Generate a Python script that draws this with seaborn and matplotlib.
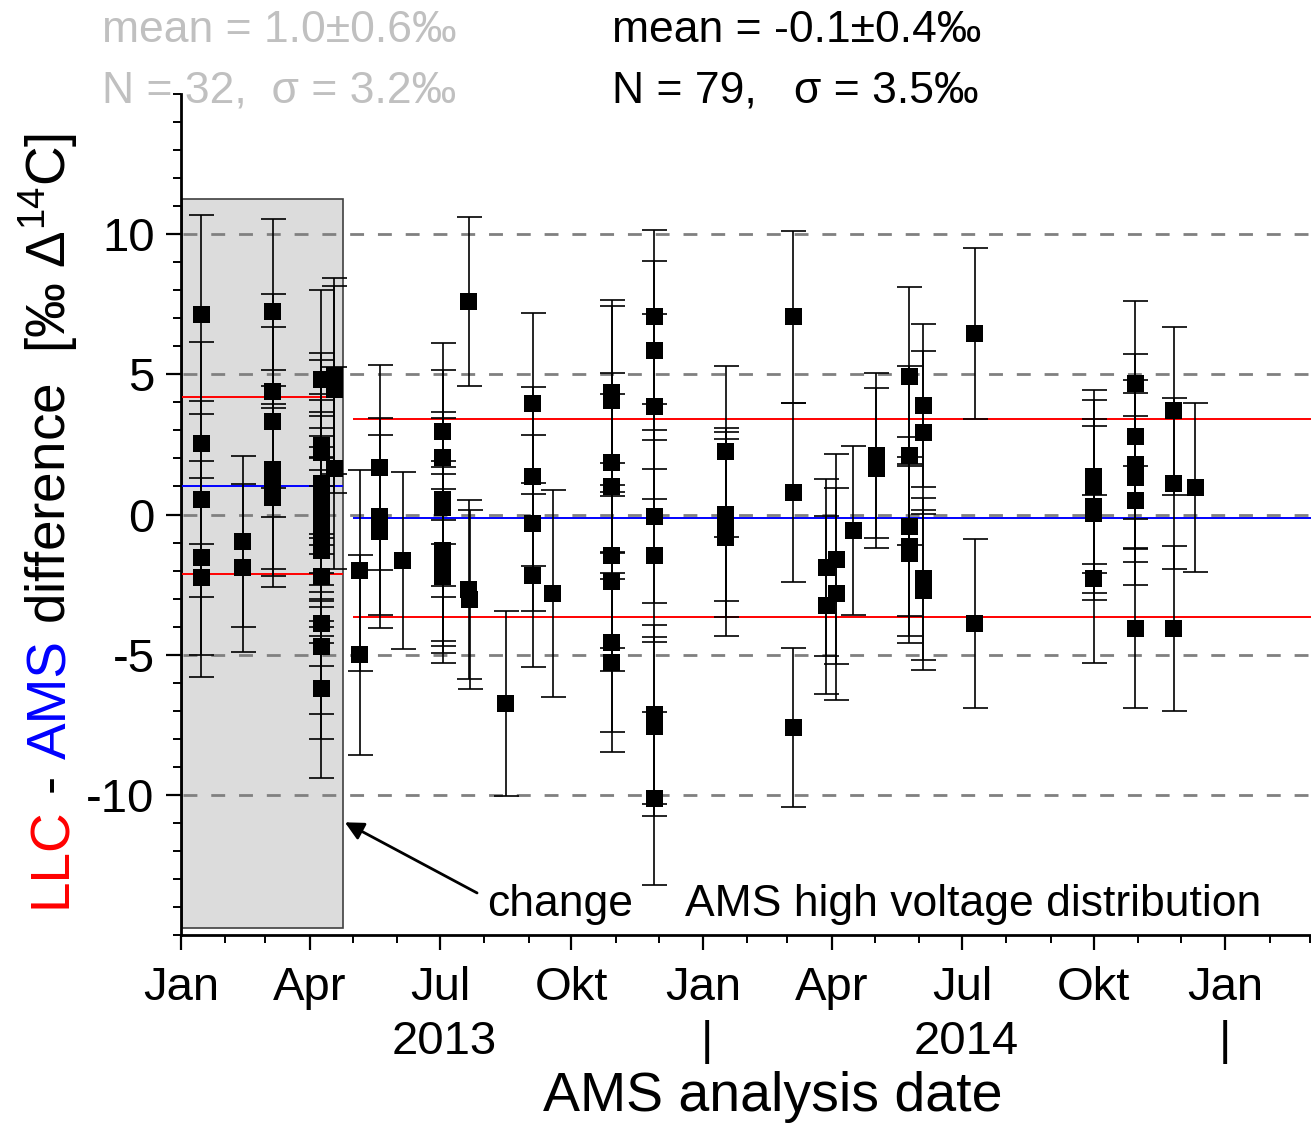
import matplotlib
matplotlib.use("Agg")
import numpy as np
import pandas as pd
import matplotlib.pyplot as plt
import matplotlib.dates as mdates
import seaborn as sns
from matplotlib.patches import Rectangle
from matplotlib.ticker import MultipleLocator, FuncFormatter
from matplotlib.transforms import blended_transform_factory

# ---------------- data ----------------
pre_dates = (["2013-01-15"] * 5 + ["2013-02-13"] * 2 + ["2013-03-06"] * 6 +
             ["2013-04-09"] * 16 + ["2013-04-18"] * 3)
pre_diffs = [7.15, 2.55, 0.55, -1.55, -2.25,
             -0.95, -1.9,
             7.25, 4.4, 3.3, 1.6, 1.2, 0.6,
             4.8, 2.45, 2.2, 1.1, 0.8, 0.45, 0.2, -0.1, -0.5, -0.8, -1.15, -1.3, -2.2, -3.9, -4.7, -6.2,
             4.95, 4.45, 1.65]
pre_errs = [3.55, 3.6, 3.5, 3.45, 3.55,
            3.05, 3.0,
            3.3, 3.45, 3.4, 3.55, 3.4, 3.2,
            3.2, 3.3, 3.3, 3.2, 3.3, 3.2, 3.3, 3.2, 3.3, 3.2, 3.2, 3.3, 3.2, 3.2, 3.3, 3.2,
            3.5, 3.7, 3.6]

post_dates = (["2013-05-06"] * 2 + ["2013-05-20"] * 3 + ["2013-06-05"] + ["2013-07-03"] * 8 +
              ["2013-07-21"] * 2 + ["2013-07-22"] + ["2013-08-16"] + ["2013-09-04"] * 4 +
              ["2013-09-18"] + ["2013-10-29"] * 8 + ["2013-11-28"] * 8 + ["2014-01-17"] * 4 +
              ["2014-03-05"] * 3 + ["2014-03-28"] * 2 + ["2014-04-04"] * 2 + ["2014-04-16"] +
              ["2014-05-02"] * 2 + ["2014-05-25"] * 5 + ["2014-06-04"] * 4 + ["2014-07-10"] * 2 +
              ["2014-10-01"] * 5 + ["2014-10-30"] * 6 + ["2014-11-26"] * 3 + ["2014-12-11"])
post_diffs = [-2.0, -5.0,
              1.68, -0.07, -0.6,
              -1.64,
              2.95, 2.05, 0.55, 0.25, -1.3, -1.5, -1.75, -2.2,
              7.6, -2.68, -3.03,
              -6.74,
              3.96, 1.36, -0.32, -2.17,
              -2.82,
              4.35, 4.05, 1.86, 1.0, -1.46, -2.4, -4.56, -5.27,
              7.05, 5.85, 3.86, -0.07, -1.46, -7.13, -7.56, -10.13,
              2.25, 0.0, -0.36, -0.82,
              7.05, 0.78, -7.6,
              -1.89, -3.24,
              -1.6, -2.82,
              -0.57,
              2.1, 1.65,
              4.93, 2.1, -0.42, -1.14, -1.39,
              3.89, 2.92, -2.3, -2.7,
              6.45, -3.89,
              1.35, 1.0, 0.3, 0.05, -2.3,
              4.67, 2.78, 1.8, 1.32, 0.5, -4.07,
              3.7, 1.1, -4.07,
              0.96]
post_errs = [3.57, 3.57,
             3.67, 3.5, 3.45,
             3.15,
             3.15, 3.1, 3.1, 3.2, 3.2, 3.2, 3.2, 3.1,
             3.0, 3.2, 3.2,
             3.3,
             3.24, 3.2, 3.14, 3.28,
             3.7,
             3.3, 3.4, 3.2, 3.3, 3.3, 3.2, 3.2, 3.2,
             3.1, 3.2, 3.3, 3.1, 3.1, 3.2, 3.2, 3.1,
             3.05, 3.1, 3.3, 3.5,
             3.08, 3.2, 2.85,
             3.17, 3.17,
             3.75, 3.78,
             3.03,
             2.95, 2.85,
             3.2, 3.2, 3.2, 3.2, 3.2,
             2.9, 2.9, 2.9, 2.85,
             3.05, 3.0,
             3.1, 3.1, 3.1, 3.1, 3.0,
             2.95, 2.95, 3.0, 3.0, 3.0, 2.85,
             3.0, 3.05, 2.93,
             3.0]

pre_mean, pre_sigma = 1.03, 3.17
post_mean, post_sigma = -0.13, 3.53
hv_change_start, hv_change_end = "2013-01-02", "2013-04-24"
post_line_start = "2013-05-01"

month_names = {1: "Jan", 4: "Apr", 7: "Jul", 10: "Okt"}
year_labels = [("2013-07-04", "2013"), ("2014-01-04", "|"), ("2014-07-04", "2014"), ("2015-01-01", "|")]

pre_stats = ["mean = 1.0\u00b10.6\u2030", "N = 32,  \u03c3 = 3.2\u2030"]
post_stats = ["mean = -0.1\u00b10.4\u2030", "N = 79,   \u03c3 = 3.5\u2030"]

# ---------------- styling ----------------
sns.set_theme(style="ticks")
plt.rcParams["font.family"] = ["Liberation Sans", "DejaVu Sans"]
plt.rcParams["mathtext.fontset"] = "custom"
plt.rcParams["mathtext.rm"] = "Liberation Sans"
plt.rcParams["mathtext.it"] = "Liberation Sans:italic"
plt.rcParams["mathtext.bf"] = "Liberation Sans:bold"
plt.rcParams["axes.unicode_minus"] = False

W, H = 1311, 1126
fig = plt.figure(figsize=(W / 100, H / 100), dpi=100)
ax = fig.add_axes([181 / W, 1 - 935 / H, 1130 / W, 841 / H])

df = pd.DataFrame({
    "date": pd.to_datetime(pre_dates + post_dates),
    "diff": pre_diffs + post_diffs,
    "err": pre_errs + post_errs,
})

x0 = mdates.date2num(pd.Timestamp("2013-01-01"))
x1 = mdates.date2num(pd.Timestamp("2015-03-02"))

# gray box for pre-change period
bx0 = mdates.date2num(pd.Timestamp(hv_change_start))
bx1 = mdates.date2num(pd.Timestamp(hv_change_end))
ax.add_patch(Rectangle((bx0, -14.75), bx1 - bx0, 11.27 + 14.75, facecolor="#dcdcdc",
                       edgecolor="#404040", linewidth=1.2, zorder=1))

# dashed reference lines
for yv in [-10, -5, 0, 5, 10]:
    ax.axhline(yv, xmin=0.002, color="#808080", lw=2.0, ls=(0, (5, 5)), zorder=2)

# mean / sigma lines
ax.hlines([pre_mean + pre_sigma, pre_mean - pre_sigma], bx0, bx1, color="red", lw=1.4, zorder=3)
ax.hlines([pre_mean], bx0, bx1, color="blue", lw=1.4, zorder=3)
ps = mdates.date2num(pd.Timestamp(post_line_start))
ax.hlines([post_mean + post_sigma, post_mean - post_sigma], ps, x1, color="red", lw=1.4, zorder=3)
ax.hlines([post_mean], ps, x1, color="blue", lw=1.4, zorder=3)

# error bars + points
ax.errorbar(df["date"], df["diff"], yerr=df["err"], fmt="none", ecolor="black",
            elinewidth=1.2, capsize=9, capthick=1.2, zorder=4)
sns.scatterplot(data=df, x="date", y="diff", marker="s", color="black", s=150,
                edgecolor="none", linewidth=0, zorder=5, ax=ax, legend=False)
ax.set_xlim(x0, x1)
ax.set_ylim(-15, 15)

# axes styling
for s in ["top", "right"]:
    ax.spines[s].set_visible(False)
for s in ["left", "bottom"]:
    ax.spines[s].set_linewidth(2.0)
    ax.spines[s].set_color("black")

ax.xaxis.set_major_locator(mdates.MonthLocator(bymonth=[1, 4, 7, 10]))
ax.xaxis.set_minor_locator(mdates.MonthLocator())
ax.xaxis.set_major_formatter(FuncFormatter(lambda v, p: month_names[mdates.num2date(v).month]))
ax.set_yticks([-10, -5, 0, 5, 10])
ax.yaxis.set_minor_locator(MultipleLocator(1))
ax.tick_params(axis="both", which="major", direction="out", length=11, width=1.6,
               labelsize=34, color="black", labelcolor="black")
ax.tick_params(axis="both", which="minor", direction="out", length=5.5, width=1.4, color="black")
ax.tick_params(axis="x", which="major", pad=11)
ax.tick_params(axis="y", which="major", pad=8)
ax.set_xlabel("")
ax.set_ylabel("")

trans = blended_transform_factory(ax.transData, ax.transAxes)
for d, lab in year_labels:
    ax.text(mdates.date2num(pd.Timestamp(d)), -0.127, lab, transform=trans, ha="center",
            va="center", fontsize=34, color="black")
ax.text(0.524, -0.193, "AMS analysis date", transform=ax.transAxes, ha="center", va="center",
        fontsize=40, color="black")

# annotation
ax.annotate("", xy=(0.145, 0.134), xytext=(0.262, 0.050), xycoords="axes fraction",
            textcoords="axes fraction",
            arrowprops=dict(arrowstyle="-|>", color="black", lw=2.0, mutation_scale=28,
                            shrinkA=0, shrinkB=0))
ax.text(0.271, 0.0226, "change", transform=ax.transAxes, ha="left", va="baseline",
        fontsize=32, color="black")
ax.text(0.446, 0.0226, "AMS high voltage distribution", transform=ax.transAxes, ha="left",
        va="baseline", fontsize=32, color="black")

# stats texts
fig.text(102 / W, 1 - 42 / H, pre_stats[0], color="#c0c0c0", fontsize=32, va="baseline")
fig.text(102 / W, 1 - 102 / H, pre_stats[1], color="#c0c0c0", fontsize=32, va="baseline")
fig.text(612 / W, 1 - 42 / H, post_stats[0], color="black", fontsize=32, va="baseline")
fig.text(612 / W, 1 - 102 / H, post_stats[1], color="black", fontsize=32, va="baseline")

# multicolour rotated y label
fig.canvas.draw()
renderer = fig.canvas.get_renderer()
pieces = [("LLC", "red"), ("-", "black"), ("AMS", "blue"),
          ("difference  [\u2030 \u0394$^{14}$C]", "black")]
fs = 39.5
gap = 0.278 * fs * 100 / 72
ypix = H - 908
xbase = 66
for txt, col in pieces:
    t = fig.text(xbase / W, ypix / H, txt, color=col, fontsize=fs, rotation=90,
                 rotation_mode="anchor", ha="left", va="baseline")
    ext = t.get_window_extent(renderer)
    ypix += ext.height + gap

fig.savefig("out.png", dpi=100)
